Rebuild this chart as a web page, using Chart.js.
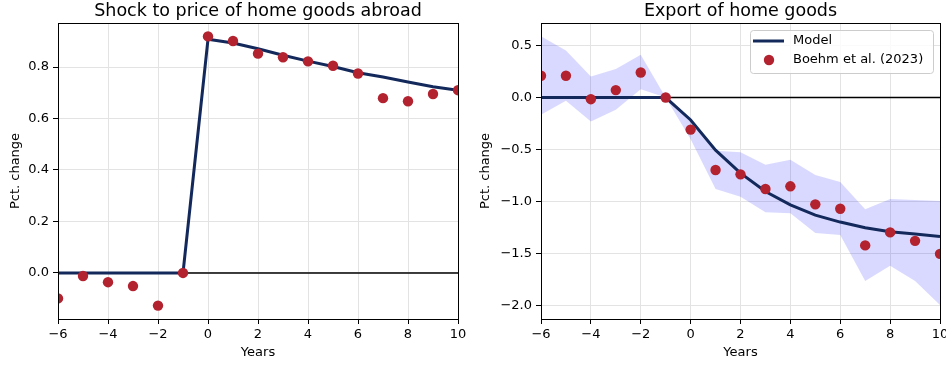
<!DOCTYPE html>
<html>
<head>
<meta charset="utf-8">
<script src="https://cdn.jsdelivr.net/npm/chart.js@4.4.0/dist/chart.umd.min.js"></script>
<style>
  html, body { margin: 0; padding: 0; background: #fff; overflow: hidden; }
  #wrap { position: relative; width: 946px; height: 368px; overflow: hidden; }
  canvas { position: absolute; top: 0; }
  #priceChart { left: 0; }
  #exportChart { left: 470px; }
</style>
</head>
<body>
<div id="wrap">
  <canvas id="priceChart" width="470" height="368"></canvas>
  <canvas id="exportChart" width="490" height="368"></canvas>
</div>
<script>
const years = [-6, -5, -4, -3, -2, -1, 0, 1, 2, 3, 4, 5, 6, 7, 8, 9, 10];

// left panel: shock to price of home goods abroad
const priceModel = [0, 0, 0, 0, 0, 0, 0.908, 0.893, 0.871, 0.846, 0.823, 0.802, 0.778, 0.761, 0.742, 0.723, 0.710];
const priceData = [-0.099, -0.012, -0.036, -0.051, -0.127, 0, 0.919, 0.901, 0.852, 0.838, 0.822, 0.805, 0.775, 0.679, 0.667, 0.695, 0.710];

// right panel: export of home goods
const exportModel = [0, 0, 0, 0, 0, 0, -0.215, -0.505, -0.725, -0.902, -1.03, -1.128, -1.195, -1.25, -1.288, -1.31, -1.333];
const exportData = [0.209, 0.209, -0.016, 0.071, 0.240, 0, -0.308, -0.695, -0.737, -0.878, -0.852, -1.025, -1.067, -1.419, -1.294, -1.375, -1.5];
const exportUpper = [0.587, 0.452, 0.202, 0.273, 0.41, 0, -0.195, -0.51, -0.525, -0.644, -0.596, -0.743, -0.81, -1.073, -0.974, -0.984, -0.993];
const exportLower = [-0.166, -0.032, -0.231, -0.118, 0.08, 0, -0.40, -0.878, -0.952, -1.10, -1.11, -1.30, -1.32, -1.76, -1.615, -1.76, -1.99];

const xTicks = [-6, -4, -2, 0, 2, 4, 6, 8, 10];
const priceTicks = [0, 0.2, 0.4, 0.6, 0.8];
const exportTicks = [-2, -1.5, -1, -0.5, 0, 0.5];

const X_MIN = -6, X_MAX = 10;
const NAVY = '#13295b';
const RED = '#b2222f';
const BAND = 'rgba(0, 0, 255, 0.15)';

Chart.defaults.font.family = '"DejaVu Sans", sans-serif';
Chart.defaults.color = '#000';

const fmt = (v, digits) => (v < 0 ? '\u2212' : '') + Math.abs(v).toFixed(digits);
const pts = (ys) => years.map((x, i) => ({x: x, y: ys[i]}));

const framePlugin = {
    id: 'frame',
    afterDatasetsDraw(chart) {
        const {ctx, chartArea: a} = chart;
        ctx.save();
        ctx.strokeStyle = '#000';
        ctx.lineWidth = 1;
        ctx.strokeRect(Math.floor(a.left) + 0.5, Math.floor(a.top) + 0.5,
            Math.round(a.right - a.left), Math.round(a.bottom - a.top));
        ctx.restore();
    }
};

const boxLegend = {
    id: 'boxLegend',
    afterDraw(chart) {
        const {ctx, chartArea: a} = chart;
        const model = chart.data.datasets.find(d => d.label === 'Model');
        const data = chart.data.datasets.find(d => d.label === 'Boehm et al. (2023)');
        const w = 183, h = 43;
        const x0 = a.right - 7 - w, y0 = a.top + 7;
        ctx.save();
        ctx.beginPath();
        ctx.roundRect(x0 + 0.5, y0 + 0.5, w, h, 3);
        ctx.fillStyle = 'rgba(255,255,255,0.8)';
        ctx.fill();
        ctx.strokeStyle = '#cccccc';
        ctx.lineWidth = 1;
        ctx.stroke();

        ctx.beginPath();
        ctx.strokeStyle = model.borderColor;
        ctx.lineWidth = model.borderWidth;
        ctx.moveTo(x0 + 3, y0 + 11);
        ctx.lineTo(x0 + 34, y0 + 11);
        ctx.stroke();

        ctx.beginPath();
        ctx.fillStyle = data.backgroundColor;
        ctx.arc(x0 + 19, y0 + 30, data.pointRadius, 0, Math.PI * 2);
        ctx.fill();

        ctx.fillStyle = '#000';
        ctx.font = '13px "DejaVu Sans"';
        ctx.textBaseline = 'middle';
        ctx.fillText(model.label, x0 + 43, y0 + 11);
        ctx.fillText(data.label, x0 + 43, y0 + 30);
        ctx.restore();
    }
};

const makeChart = (id, cfg) => {
    const datasets = [];
    if (cfg.lower) {
        datasets.push({
            label: 'lower', data: pts(cfg.lower), borderWidth: 0, pointRadius: 0,
            fill: false, order: 5, clip: 0
        });
        datasets.push({
            label: 'upper', data: pts(cfg.upper), borderWidth: 0, pointRadius: 0,
            fill: '-1', backgroundColor: BAND, order: 4, clip: 0
        });
    }
    datasets.push({
        label: 'zero', data: [{x: X_MIN, y: 0}, {x: X_MAX, y: 0}],
        borderColor: '#000', borderWidth: 1.4, pointRadius: 0, order: 3, clip: 0
    });
    datasets.push({
        label: 'Model', data: pts(cfg.model), borderColor: NAVY, borderWidth: 3,
        pointRadius: 0, tension: 0, fill: false, order: 1, clip: 0
    });
    datasets.push({
        label: 'Boehm et al. (2023)', data: pts(cfg.points), showLine: false,
        pointRadius: 5.2, pointBackgroundColor: RED, backgroundColor: RED,
        pointBorderWidth: 0, order: 0, clip: 0
    });

    return new Chart(document.getElementById(id), {
        type: 'line',
        data: {datasets: datasets},
        options: {
            responsive: false,
            animation: false,
            devicePixelRatio: 1,
            layout: {padding: {left: 0, right: cfg.rightPad, top: 0, bottom: 0}},
            plugins: {
                legend: {display: false},
                tooltip: {enabled: false},
                title: {
                    display: true,
                    text: cfg.title,
                    fullSize: false,
                    color: '#000',
                    font: {size: 17.5, weight: 'normal', lineHeight: 1.1},
                    padding: {top: 2, bottom: 1.75}
                }
            },
            scales: {
                x: {
                    type: 'linear',
                    min: X_MIN,
                    max: X_MAX,
                    afterBuildTicks: (s) => { s.ticks = xTicks.map(v => ({value: v})); },
                    afterFit: (s) => { s.height = 49; },
                    border: {display: false},
                    grid: {color: '#e3e3e3', lineWidth: 1, tickColor: '#000', tickLength: 5},
                    ticks: {
                        callback: (v) => fmt(v, 0),
                        padding: 2.5, maxRotation: 0, autoSkip: false,
                        font: {size: 13}, color: '#000'
                    },
                    title: {
                        display: true, text: 'Years', color: '#000',
                        font: {size: 13}, padding: {top: 0, bottom: 7.5}
                    }
                },
                y: {
                    type: 'linear',
                    min: cfg.yMin,
                    max: cfg.yMax,
                    afterBuildTicks: (s) => { s.ticks = cfg.yTicks.map(v => ({value: v})); },
                    afterFit: (s) => { s.width = cfg.yWidth; },
                    border: {display: false},
                    grid: {color: '#e3e3e3', lineWidth: 1, tickColor: '#000', tickLength: 5},
                    ticks: {
                        callback: (v) => fmt(v, 1),
                        padding: 4, autoSkip: false,
                        font: {size: 13}, color: '#000'
                    },
                    title: {
                        display: true, text: 'Pct. change', color: '#000',
                        font: {size: 13}, padding: {top: 8.2, bottom: 0}
                    }
                }
            }
        },
        plugins: cfg.legend ? [framePlugin, boxLegend] : [framePlugin]
    });
};

makeChart('priceChart', {
    title: 'Shock to price of home goods abroad',
    model: priceModel,
    points: priceData,
    yMin: -0.179, yMax: 0.971,
    yTicks: priceTicks,
    yWidth: 58,
    rightPad: 12,
    legend: false
});

makeChart('exportChart', {
    title: 'Export of home goods',
    model: exportModel,
    points: exportData,
    upper: exportUpper,
    lower: exportLower,
    yMin: -2.125, yMax: 0.715,
    yTicks: exportTicks,
    yWidth: 71,
    rightPad: 20,
    legend: true
});
</script>
</body>
</html>
